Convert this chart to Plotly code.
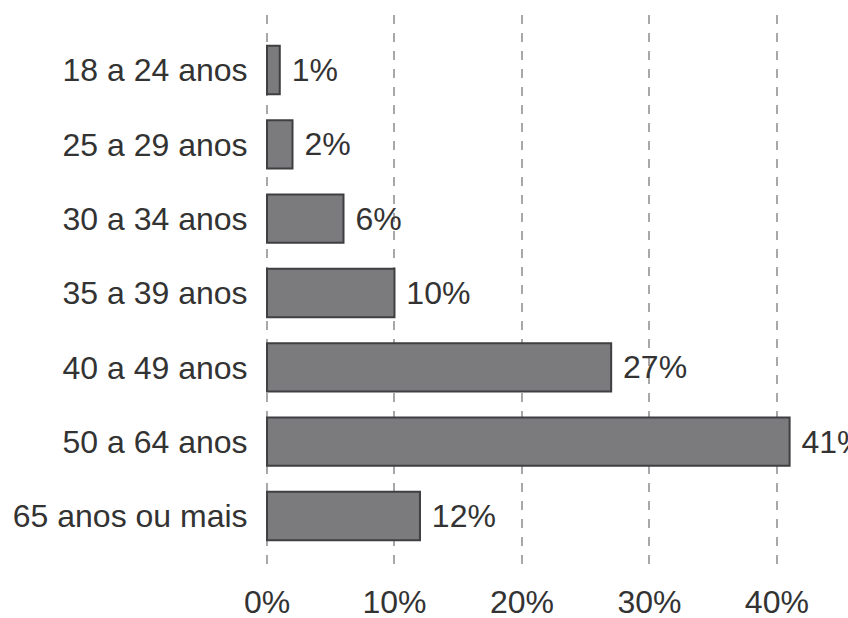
import plotly.graph_objects as go

categories = ["18 a 24 anos", "25 a 29 anos", "30 a 34 anos", "35 a 39 anos",
              "40 a 49 anos", "50 a 64 anos", "65 anos ou mais"]
values = [1, 2, 6, 10, 27, 41, 12]
value_labels = ["1%", "2%", "6%", "10%", "27%", "41%", "12%"]
tick_vals = [0, 10, 20, 30, 40]
tick_text = ["0%", "10%", "20%", "30%", "40%"]

FONT = "Liberation Sans, Arial, sans-serif"
TXT = "#333333"
FS = 32

fig = go.Figure(go.Bar(
    x=values, y=categories, orientation="h",
    marker=dict(color="#7b7b7e", line=dict(color="#3f3f42", width=2)),
    width=0.65,
    text=[" " + t for t in value_labels], texttemplate="%{text}",
    textposition="outside", cliponaxis=False,
    textfont=dict(family=FONT, size=FS, color=TXT),
))

fig.update_layout(
    width=848, height=618,
    margin=dict(l=266, r=0, t=15, b=51, autoexpand=False),
    paper_bgcolor="white", plot_bgcolor="white",
    showlegend=False,
    font=dict(family=FONT, size=FS, color=TXT),
    xaxis=dict(range=[-0.08, 45.58], tickvals=tick_vals, ticktext=tick_text,
               showgrid=True, gridcolor="#a8a8a8", gridwidth=2, griddash="dash",
               zeroline=False, showline=False, automargin=False,
               ticks="outside", ticklen=7, tickcolor="rgba(0,0,0,0)",
               tickfont=dict(family=FONT, size=FS, color=TXT)),
    yaxis=dict(categoryorder="array", categoryarray=categories,
               range=[6.686, -0.74], showgrid=False, zeroline=False, showline=False,
               automargin=False,
               ticks="outside", ticklen=11, tickcolor="rgba(0,0,0,0)",
               tickfont=dict(family=FONT, size=FS, color=TXT)),
)

fig.write_html("out.html", config={"displayModeBar": False},
               post_script="document.body.style.margin='0';document.body.style.overflow='hidden';")
